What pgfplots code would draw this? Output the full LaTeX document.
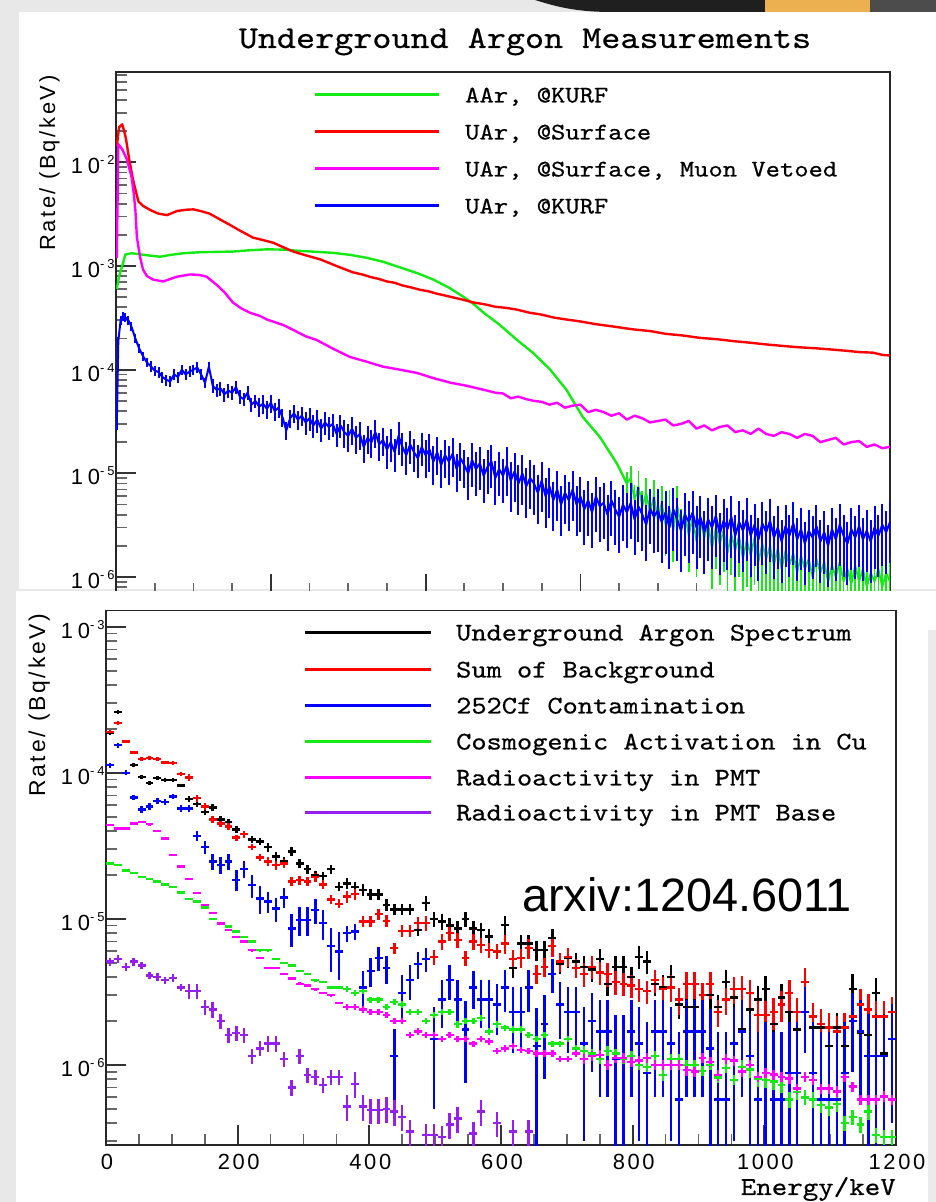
\documentclass[border=0pt]{standalone}
\usepackage{graphicx}
\usepackage{pgfplots}
\pgfplotsset{compat=1.18}
\usepackage{pgfplotstable}
\usepackage{fontspec}
\setmainfont{Liberation Sans}
\newfontfamily\rootsans[LetterSpace=12]{Liberation Sans}
\newfontfamily\rootsansy[LetterSpace=22]{Liberation Sans}
\newfontfamily\typew[Extension=.otf, FakeBold=0.45]{lmmono10-regular}
% typewriter text widened to Courier proportions
\newcommand{\cour}[2]{\scalebox{1.14}[1]{\typew\fontsize{#1}{#1}\selectfont #2}}

\definecolor{rgreen}{RGB}{20,235,20}
\definecolor{rred}{RGB}{255,0,0}
\definecolor{rmag}{RGB}{255,0,255}
\definecolor{rblue}{RGB}{0,0,255}
\definecolor{rviolet}{RGB}{150,30,240}
\definecolor{slidetan}{RGB}{236,176,80}

\pgfkeys{/pgf/number format/.cd, assume math mode=true, 1000 sep={}}
\newcommand{\decadelabel}{\pgfmathtruncatemacro{\ex}{round(-\tick)}10\raisebox{0.42em}{\fontsize{13}{13}\selectfont -\ex}}

\pgfplotsset{
  rootaxis/.style={
    scale only axis, enlargelimits=false,
    tick pos=left, tick align=inside,
    axis line style={black!85, line width=1.6bp},
    major tick style={black!80, line width=1.8bp},
    minor tick style={black!60, line width=1.8bp},
    major tick length=20bp, minor tick length=11bp,
    minor x tick num=3,
    yticklabel={\decadelabel},
    yticklabel style={font=\rootsansy\fontsize{22}{22}\selectfont, anchor=base east, xshift=2bp, yshift=-11.5bp},
    xticklabel style={font=\rootsans\fontsize{22}{22}\selectfont, anchor=base, xshift=1bp, yshift=-24bp},
  },
  spec/.style={only marks, mark=-, mark size=3.95bp, mark options={line width=2.4bp}},
  rbar/.style={error bars/y dir=both, error bars/y explicit relative, error bars/error mark=none,
    error bars/error bar style={line width=2.4bp}},
  abar/.style={error bars/y dir=both, error bars/y explicit, error bars/error mark=none,
    error bars/error bar style={line width=2.4bp}},
  curve/.style={no marks, line width=2.4bp, line join=round},
}

\begin{document}
% UAr at KURF, 5 keV steps, relative errors
\pgfplotstableread{
E v r
1 2.9e-5 0.1
3 1.9e-4 0.1
6 3.0e-4 0.1
9 3.3e-4 0.1
12 3.2e-4 0.1
16 3.0e-4 0.1
20 2.6e-4 0.1
25 2.0e-4 0.1
30 1.6e-4 0.1
35 1.35e-4 0.1
40 1.17e-4 0.1
45 1.08e-4 0.12
50 9.8e-5 0.12
55 9.5e-5 0.12
60 8.5e-5 0.12
65 8.0e-5 0.12
70 7.7e-5 0.12
75 9.0e-5 0.12
80 8.5e-5 0.12
85 1.0e-4 0.12
90 9.0e-5 0.12
95 9.6e-5 0.12
100 1.0e-4 0.12
105 1.05e-4 0.12
110 9.0e-5 0.12
115 7.5e-5 0.12
120 1.07e-4 0.12
125 7.0e-5 0.15
130 6.4e-5 0.15
135 6.6e-5 0.15
140 5.8e-5 0.15
145 6.3e-5 0.15
150 6.0e-5 0.15
155 6.8e-5 0.15
160 5.5e-5 0.15
165 5.2e-5 0.15
170 6.0e-5 0.15
175 4.6e-5 0.15
180 5.0e-5 0.15
185 4.4e-5 0.2
190 4.7e-5 0.2
195 4.2e-5 0.2
200 4.8e-5 0.2
205 4.0e-5 0.2
210 4.3e-5 0.2
215 3.5e-5 0.2
220 2.6e-5 0.2
225 3.4e-5 0.2
230 3.8e-5 0.2
235 3.3e-5 0.2
240 3.6e-5 0.2
245 3.1e-5 0.25
250 3.4e-5 0.25
255 2.9e-5 0.25
260 3.3e-5 0.25
265 2.7e-5 0.25
270 3.1e-5 0.25
275 2.8e-5 0.25
280 3.0e-5 0.25
285 2.4e-5 0.25
290 2.9e-5 0.25
295 2.5e-5 0.3
300 2.3e-5 0.3
305 2.7e-5 0.3
310 2.2e-5 0.3
315 2.4e-5 0.3
320 1.8e-5 0.3
325 2.2e-5 0.3
330 2.0e-5 0.3
335 2.5e-5 0.3
340 1.9e-5 0.3
345 2.1e-5 0.3
350 1.7e-5 0.35
355 2.0e-5 0.35
360 1.6e-5 0.35
365 2.3e-5 0.35
370 1.8e-5 0.35
375 1.5e-5 0.35
380 1.9e-5 0.35
385 1.6e-5 0.35
390 1.4e-5 0.35
395 1.8e-5 0.35
400 1.5e-5 0.4
405 1.7e-5 0.4
410 1.3e-5 0.4
415 1.6e-5 0.4
420 1.2e-5 0.4
425 1.5e-5 0.4
430 1.3e-5 0.4
435 1.55e-5 0.4
440 1.1e-5 0.4
445 1.4e-5 0.4
450 1.2e-5 0.4
455 1.0e-5 0.45
460 1.35e-5 0.45
465 1.1e-5 0.45
470 1.25e-5 0.45
475 9.5e-6 0.45
480 1.15e-5 0.45
485 1.3e-5 0.45
490 9.0e-6 0.45
495 1.1e-5 0.45
500 9.5e-6 0.45
505 1.2e-5 0.5
510 8.5e-6 0.5
515 1.05e-5 0.5
520 8.0e-6 0.5
525 1.0e-5 0.5
530 7.5e-6 0.5
535 9.0e-6 0.5
540 8.0e-6 0.5
545 6.5e-6 0.5
550 8.5e-6 0.5
555 6.0e-6 0.5
560 7.5e-6 0.5
565 5.5e-6 0.5
570 7.0e-6 0.5
575 5.0e-6 0.5
580 6.5e-6 0.5
585 5.5e-6 0.5
590 7.0e-6 0.5
595 5.0e-6 0.5
600 6.0e-6 0.55
605 4.5e-6 0.55
610 5.5e-6 0.55
615 4.2e-6 0.55
620 6.0e-6 0.55
625 4.8e-6 0.55
630 5.2e-6 0.55
635 4.0e-6 0.55
640 5.5e-6 0.55
645 4.5e-6 0.55
650 3.8e-6 0.55
655 5.0e-6 0.55
660 4.2e-6 0.55
665 5.2e-6 0.55
670 3.6e-6 0.55
675 4.8e-6 0.55
680 4.0e-6 0.55
685 3.2e-6 0.55
690 4.6e-6 0.55
695 3.8e-6 0.55
700 4.4e-6 0.6
705 3.4e-6 0.6
710 4.2e-6 0.6
715 3.0e-6 0.6
720 4.5e-6 0.6
725 3.6e-6 0.6
730 2.8e-6 0.6
735 4.0e-6 0.6
740 3.4e-6 0.6
745 4.2e-6 0.6
750 3.0e-6 0.6
755 3.8e-6 0.6
760 2.7e-6 0.6
765 3.6e-6 0.6
770 3.0e-6 0.6
775 3.9e-6 0.6
780 2.6e-6 0.6
785 3.5e-6 0.6
790 2.9e-6 0.6
795 3.8e-6 0.6
800 2.5e-6 0.6
805 3.4e-6 0.6
810 2.8e-6 0.6
815 3.6e-6 0.6
820 2.5e-6 0.6
825 3.2e-6 0.6
830 2.3e-6 0.6
835 3.3e-6 0.6
840 2.7e-6 0.6
845 3.5e-6 0.6
850 2.4e-6 0.6
855 3.0e-6 0.6
860 2.2e-6 0.6
865 3.1e-6 0.6
870 2.5e-6 0.6
875 3.3e-6 0.6
880 2.3e-6 0.6
885 2.9e-6 0.6
890 2.1e-6 0.6
895 2.8e-6 0.6
900 2.4e-6 0.6
905 3.1e-6 0.6
910 2.2e-6 0.6
915 2.7e-6 0.6
920 2.0e-6 0.6
925 2.9e-6 0.6
930 2.3e-6 0.6
935 3.2e-6 0.6
940 2.5e-6 0.6
945 2.1e-6 0.6
950 2.9e-6 0.6
955 2.4e-6 0.6
960 3.1e-6 0.6
965 2.3e-6 0.6
970 2.8e-6 0.6
975 2.2e-6 0.6
980 3.0e-6 0.6
985 2.5e-6 0.6
990 3.2e-6 0.6
995 2.7e-6 0.6
1000 3.4e-6 0.6
}\kurfdata

% AAr at KURF above the 39Ar endpoint, relative errors
\pgfplotstableread{
E v r
660 8e-6 0.3
665 9e-6 0.3
670 5.5e-6 0.4
675 7.5e-6 0.4
680 4.8e-6 0.4
685 6.5e-6 0.4
690 4.2e-6 0.45
695 6.0e-6 0.45
700 3.6e-6 0.45
705 5.2e-6 0.45
710 3.2e-6 0.5
715 4.6e-6 0.5
720 2.8e-6 0.5
725 5.0e-6 0.5
730 3.0e-6 0.5
735 4.2e-6 0.5
740 2.5e-6 0.55
745 3.8e-6 0.55
750 2.2e-6 0.55
755 3.6e-6 0.55
760 2.4e-6 0.55
765 3.3e-6 0.55
770 1.9e-6 0.6
775 3.0e-6 0.6
780 2.1e-6 0.6
785 2.8e-6 0.6
790 1.7e-6 0.6
795 2.6e-6 0.6
800 1.8e-6 0.6
805 2.5e-6 0.6
810 1.5e-6 0.65
815 2.3e-6 0.65
820 1.6e-6 0.65
825 2.4e-6 0.65
830 1.4e-6 0.65
835 2.1e-6 0.65
840 1.5e-6 0.65
845 2.0e-6 0.65
850 1.3e-6 0.7
855 1.9e-6 0.7
860 1.2e-6 0.7
865 1.8e-6 0.7
870 1.3e-6 0.7
875 1.7e-6 0.7
880 1.1e-6 0.7
885 1.6e-6 0.7
890 1.2e-6 0.7
895 1.5e-6 0.7
900 1.0e-6 0.75
905 1.5e-6 0.75
910 1.1e-6 0.75
915 1.4e-6 0.75
920 9e-7 0.75
925 1.3e-6 0.75
930 1.0e-6 0.75
935 1.4e-6 0.75
940 9e-7 0.75
945 1.2e-6 0.75
950 8.5e-7 0.8
955 1.3e-6 0.8
960 9e-7 0.8
965 1.2e-6 0.8
970 8e-7 0.8
975 1.1e-6 0.8
980 9e-7 0.8
985 1.2e-6 0.8
990 8e-7 0.8
995 1.1e-6 0.8
1000 9e-7 0.8
}\aartail

% 12 keV bins: spectrum, background sum and its components (relative errors; 252Cf absolute)
\pgfplotstableread{
E k ke r re b bp bm g ge m me p pe
6 1.88e-4 0.03 1.9e-4 0.03 1.13e-4 4.5e-6 4.5e-6 2.4e-5 0.02 4.4e-5 0.02 5.1e-6 0.06
18 2.6e-4 0.03 2.2e-4 0.03 1.55e-4 6e-6 6e-6 2.34e-5 0.02 4.15e-5 0.02 5.3e-6 0.06
30 1.64e-4 0.03 1.64e-4 0.03 1.0e-4 4e-6 4e-6 2.15e-5 0.02 4.15e-5 0.02 4.7e-6 0.06
42 1.13e-4 0.03 1.38e-4 0.03 6.8e-5 3e-6 3e-6 2.07e-5 0.02 4.5e-5 0.02 5.1e-6 0.06
54 9.4e-5 0.03 1.24e-4 0.03 5.6e-5 3e-6 3e-6 1.94e-5 0.02 4.6e-5 0.02 4.8e-6 0.06
66 8.5e-5 0.03 1.26e-4 0.03 5.9e-5 3e-6 3e-6 1.88e-5 0.02 4.45e-5 0.02 4.1e-6 0.06
78 9.2e-5 0.03 1.24e-4 0.03 6.4e-5 3e-6 3e-6 1.8e-5 0.02 4.0e-5 0.02 4.0e-6 0.06
90 8.9e-5 0.03 1.18e-4 0.03 6.3e-5 3e-6 3e-6 1.72e-5 0.02 3.55e-5 0.02 3.8e-6 0.06
102 8.9e-5 0.03 1.17e-4 0.03 6.9e-5 3e-6 3e-6 1.66e-5 0.02 2.75e-5 0.02 3.95e-6 0.06
114 8.2e-5 0.03 9.8e-5 0.03 5.7e-5 3e-6 3e-6 1.52e-5 0.02 2.28e-5 0.02 3.4e-6 0.06
126 6.6e-5 0.05 9.3e-5 0.05 5.7e-5 3e-6 3e-6 1.37e-5 0.02 1.88e-5 0.02 3.2e-6 0.12
138 6.1e-5 0.05 6.7e-5 0.05 3.7e-5 3e-6 3e-6 1.32e-5 0.02 1.5e-5 0.02 3.2e-6 0.12
150 5.4e-5 0.05 5.9e-5 0.05 3.1e-5 3e-6 3e-6 1.2e-5 0.02 1.25e-5 0.02 2.5e-6 0.12
162 5.8e-5 0.05 4.8e-5 0.05 2.47e-5 3e-6 3e-6 1.0e-5 0.02 1.1e-5 0.02 2.4e-6 0.12
174 4.8e-5 0.05 4.5e-5 0.05 2.34e-5 3e-6 3e-6 9.4e-6 0.02 9.3e-6 0.02 2.0e-6 0.12
186 4.6e-5 0.05 4.3e-5 0.05 2.47e-5 3e-6 3e-6 8.9e-6 0.02 8.4e-6 0.02 1.6e-6 0.12
198 4.1e-5 0.05 3.6e-5 0.05 1.85e-5 3e-6 3e-6 8.2e-6 0.02 7.5e-6 0.02 1.65e-6 0.12
210 3.8e-5 0.05 3.8e-5 0.05 2.2e-5 3e-6 3e-6 7.5e-6 0.02 7.0e-6 0.02 1.6e-6 0.12
222 3.5e-5 0.05 3.1e-5 0.05 1.7e-5 3e-6 3e-6 7.0e-6 0.02 6.1e-6 0.02 1.15e-6 0.12
234 3.4e-5 0.05 2.63e-5 0.05 1.38e-5 3e-6 3e-6 6.1e-6 0.02 5.4e-6 0.02 1.3e-6 0.12
246 3.1e-5 0.07 2.47e-5 0.07 1.32e-5 2.2e-6 2.2e-6 6.1e-6 0.02 4.6e-6 0.02 1.4e-6 0.12
258 2.67e-5 0.07 2.34e-5 0.07 1.18e-5 2.2e-6 2.2e-6 5.3e-6 0.02 4.6e-6 0.02 1.4e-6 0.12
270 2.5e-5 0.07 2.4e-5 0.07 1.4e-5 2.2e-6 2.2e-6 5.0e-6 0.02 4.2e-6 0.02 1.1e-6 0.12
282 2.9e-5 0.07 1.8e-5 0.07 8.6e-6 2.2e-6 2.2e-6 4.8e-6 0.02 3.9e-6 0.02 7.0e-7 0.12
294 2.4e-5 0.07 1.85e-5 0.07 9.8e-6 2.2e-6 2.2e-6 4.4e-6 0.02 3.6e-6 0.02 1.15e-6 0.12
306 2.2e-5 0.07 1.8e-5 0.07 9.8e-6 2.2e-6 2.2e-6 4.2e-6 0.02 3.5e-6 0.02 8.5e-7 0.12
318 2.0e-5 0.07 1.94e-5 0.07 1.15e-5 2.2e-6 2.2e-6 3.8e-6 0.02 3.3e-6 0.02 8.3e-7 0.12
330 1.97e-5 0.07 1.72e-5 0.07 9.4e-6 2.2e-6 2.2e-6 3.7e-6 0.02 3.1e-6 0.02 7.3e-7 0.12
342 2.2e-5 0.07 1.36e-5 0.07 6.5e-6 2.2e-6 2.2e-6 3.4e-6 0.02 3.0e-6 0.02 8.3e-7 0.12
354 1.66e-5 0.07 1.27e-5 0.07 6.0e-6 2.2e-6 2.2e-6 3.4e-6 0.02 2.65e-6 0.02 8.3e-7 0.12
366 1.75e-5 0.09 1.42e-5 0.09 8.0e-6 1.0e-6 1.0e-6 3.3e-6 0.05 2.5e-6 0.05 5.2e-7 0.2
378 1.65e-5 0.09 1.48e-5 0.09 8.2e-6 1.0e-6 1.0e-6 3.1e-6 0.05 2.5e-6 0.05 7.4e-7 0.2
390 1.58e-5 0.09 9.6e-6 0.09 3.4e-6 1.0e-6 1.0e-6 3.2e-6 0.05 2.4e-6 0.05 5.2e-7 0.2
402 1.47e-5 0.09 9.6e-6 0.09 4.4e-6 1.0e-6 1.0e-6 2.8e-6 0.05 2.3e-6 0.05 4.9e-7 0.2
414 1.47e-5 0.09 1.08e-5 0.09 5.4e-6 1.0e-6 1.0e-6 2.8e-6 0.05 2.3e-6 0.05 4.9e-7 0.2
426 1.25e-5 0.09 9.7e-6 0.09 4.6e-6 1.0e-6 1.0e-6 2.5e-6 0.05 2.2e-6 0.05 5.0e-7 0.2
438 1.16e-5 0.09 6.3e-6 0.09 1.15e-6 0.6e-6 0.6e-6 2.7e-6 0.05 2.0e-6 0.05 4.8e-7 0.2
450 1.16e-5 0.09 8.3e-6 0.09 3.1e-6 1.0e-6 1.0e-6 2.6e-6 0.05 2.0e-6 0.05 4.4e-7 0.2
462 1.16e-5 0.09 8.3e-6 0.09 3.8e-6 1.0e-6 1.0e-6 2.3e-6 0.05 1.6e-6 0.05 3.5e-7 0.2
474 8.4e-6 0.09 9.4e-6 0.09 4.9e-6 1.0e-6 1.0e-6 2.3e-6 0.05 1.7e-6 0.05 nan 0.2
486 1.29e-5 0.12 9.4e-6 0.12 5.3e-6 1.0e-6 1.0e-6 2.0e-6 0.05 1.6e-6 0.05 3.3e-7 0.2
498 1.0e-5 0.12 5.5e-6 0.12 1.5e-6 1.0e-6 1.0e-6 2.2e-6 0.05 1.6e-6 0.05 3.3e-7 0.2
510 9.6e-6 0.12 7.0e-6 0.12 2.8e-6 1.0e-6 1.0e-6 2.3e-6 0.05 1.5e-6 0.05 3.2e-7 0.2
522 9.0e-6 0.12 8.0e-6 0.12 3.8e-6 1.0e-6 1.0e-6 2.3e-6 0.05 1.6e-6 0.05 3.9e-7 0.2
534 8.6e-6 0.12 7.2e-6 0.12 2.8e-6 1.0e-6 1.0e-6 1.9e-6 0.05 1.5e-6 0.05 4.3e-7 0.2
546 1.0e-5 0.12 5.4e-6 0.12 1.75e-6 1.0e-6 1.0e-6 2.0e-6 0.05 1.5e-6 0.05 nan 0.2
558 8.6e-6 0.12 7.0e-6 0.12 3.4e-6 1.0e-6 1.0e-6 2.0e-6 0.05 1.4e-6 0.05 3.4e-7 0.2
570 8.4e-6 0.12 6.6e-6 0.12 2.8e-6 1.0e-6 1.0e-6 2.1e-6 0.05 1.5e-6 0.05 4.8e-7 0.2
582 7.6e-6 0.12 6.1e-6 0.12 2.8e-6 1.0e-6 1.0e-6 1.7e-6 0.05 1.45e-6 0.05 nan 0.2
594 6.0e-6 0.12 6.0e-6 0.12 2.6e-6 1.0e-6 1.0e-6 1.9e-6 0.05 1.25e-6 0.05 4.0e-7 0.2
606 9.1e-6 0.15 6.8e-6 0.15 3.4e-6 1.1e-6 1.1e-6 1.8e-6 0.05 1.3e-6 0.05 nan 0.2
618 4.6e-6 0.15 5.3e-6 0.15 2.3e-6 1.1e-6 1.1e-6 1.75e-6 0.05 1.35e-6 0.05 3.5e-7 0.2
630 6.8e-6 0.15 5.4e-6 0.15 2.3e-6 1.1e-6 1.1e-6 1.75e-6 0.05 1.27e-6 0.05 nan 0.2
642 6.8e-6 0.15 6.3e-6 0.15 3.4e-6 1.1e-6 1.1e-6 1.6e-6 0.05 1.25e-6 0.05 3.5e-7 0.2
654 6.1e-6 0.15 4.2e-6 0.15 1.35e-6 1.1e-6 1.1e-6 1.5e-6 0.05 1.2e-6 0.05 nan 0.2
666 6.1e-6 0.15 4.7e-6 0.15 1.9e-6 1.1e-6 1.1e-6 1.6e-6 0.05 1.2e-6 0.05 nan 0.2
678 7.4e-6 0.15 6.5e-6 0.15 4.2e-6 1.1e-6 1.1e-6 1.4e-6 0.05 1.2e-6 0.05 nan 0.2
690 4.9e-6 0.15 5.1e-6 0.15 2.6e-6 1.1e-6 1.1e-6 1.4e-6 0.05 1.1e-6 0.05 nan 0.2
702 5.4e-6 0.15 5.5e-6 0.15 2.3e-6 1.1e-6 1.1e-6 1.5e-6 0.05 1.1e-6 0.05 nan 0.2
714 5.1e-6 0.15 4.6e-6 0.15 2.3e-6 1.1e-6 1.1e-6 1.3e-6 0.05 1.2e-6 0.05 nan 0.2
726 4.7e-6 0.18 4.2e-6 0.18 1.4e-6 1.1e-6 1.1e-6 1.25e-6 0.08 1.1e-6 0.08 nan 0.2
738 4.5e-6 0.18 4.7e-6 0.18 2.0e-6 1.1e-6 1.1e-6 1.2e-6 0.08 1.15e-6 0.08 nan 0.2
750 5.3e-6 0.18 4.3e-6 0.18 1.7e-6 1.1e-6 1.1e-6 1.1e-6 0.08 1.17e-6 0.08 nan 0.2
762 3.6e-6 0.18 4.2e-6 0.18 1.7e-6 1.1e-6 1.1e-6 1.25e-6 0.08 1.0e-6 0.08 nan 0.2
774 4.7e-6 0.18 3.7e-6 0.18 1.1e-6 1.1e-6 1.07e-6 1.2e-6 0.08 1.12e-6 0.08 nan 0.2
786 4.7e-6 0.18 3.6e-6 0.18 1.1e-6 1.1e-6 1.07e-6 1.1e-6 0.08 1.12e-6 0.08 nan 0.2
798 4.0e-6 0.18 3.5e-6 0.18 1.7e-6 1.1e-6 1.1e-6 1.15e-6 0.08 1.05e-6 0.08 nan 0.2
810 5.5e-6 0.18 3.3e-6 0.18 1.4e-6 1.1e-6 1.1e-6 1.0e-6 0.08 1.07e-6 0.08 nan 0.2
822 5.1e-6 0.18 3.2e-6 0.18 8.8e-7 1.1e-6 8.5e-7 9.7e-7 0.08 1.12e-6 0.08 nan 0.2
834 3.6e-6 0.18 3.8e-6 0.18 1.7e-6 1.1e-6 1.1e-6 1.15e-6 0.08 1.0e-6 0.08 nan 0.2
846 3.4e-6 0.21 3.3e-6 0.21 1.7e-6 1.1e-6 1.1e-6 8.5e-7 0.08 1.0e-6 0.08 nan 0.2
858 4.0e-6 0.21 3.4e-6 0.21 1.4e-6 1.1e-6 1.1e-6 1.1e-6 0.08 1.0e-6 0.08 nan 0.2
870 2.6e-6 0.21 2.8e-6 0.21 5.8e-7 1.1e-6 5.6e-7 1.1e-6 0.08 1.0e-6 0.08 nan 0.2
882 2.5e-6 0.21 3.6e-6 0.21 1.7e-6 1.1e-6 1.1e-6 1.0e-6 0.08 9.2e-7 0.08 nan 0.2
894 2.5e-6 0.21 3.6e-6 0.21 1.7e-6 1.1e-6 1.1e-6 1.0e-6 0.08 9.0e-7 0.08 nan 0.2
906 3.0e-6 0.21 3.0e-6 0.21 1.7e-6 1.1e-6 1.1e-6 9.1e-7 0.08 1.12e-6 0.08 nan 0.2
918 3.0e-6 0.21 3.6e-6 0.21 1.3e-6 1.1e-6 1.1e-6 1.0e-6 0.08 1.05e-6 0.08 nan 0.2
930 2.5e-6 0.21 2.3e-6 0.21 5.8e-7 1.1e-6 5.6e-7 8.2e-7 0.08 8.5e-7 0.08 nan 0.2
942 3.7e-6 0.21 2.8e-6 0.21 5.8e-7 1.1e-6 5.6e-7 9.5e-7 0.08 1.1e-6 0.08 nan 0.2
954 2.9e-6 0.21 3.3e-6 0.21 1.4e-6 1.1e-6 1.1e-6 7.9e-7 0.08 1.07e-6 0.08 nan 0.2
966 1.75e-6 0.24 3.3e-6 0.24 1.7e-6 1.1e-6 1.1e-6 9.7e-7 0.12 9.0e-7 0.08 nan 0.2
978 2.4e-6 0.24 3.1e-6 0.24 1.15e-6 1.1e-6 1.1e-6 9.3e-7 0.12 1.0e-6 0.08 nan 0.2
990 2.8e-6 0.24 2.2e-6 0.24 5.8e-7 1.1e-6 5.6e-7 8.0e-7 0.12 8.3e-7 0.08 nan 0.2
1002 3.3e-6 0.24 2.2e-6 0.24 8.8e-7 1.1e-6 8.5e-7 7.9e-7 0.12 8.8e-7 0.08 nan 0.2
1014 1.9e-6 0.24 2.3e-6 0.24 5.8e-7 1.1e-6 5.6e-7 7.7e-7 0.12 8.6e-7 0.08 nan 0.2
1026 2.9e-6 0.24 2.6e-6 0.24 5.8e-7 1.1e-6 5.6e-7 7.3e-7 0.12 8.3e-7 0.08 nan 0.2
1038 2.3e-6 0.24 3.1e-6 0.24 8.8e-7 1.1e-6 8.5e-7 5.8e-7 0.12 8.1e-7 0.08 nan 0.2
1050 1.75e-6 0.24 2.3e-6 0.24 8.8e-7 1.1e-6 8.5e-7 6.5e-7 0.12 6.9e-7 0.08 nan 0.2
1062 2.3e-6 0.24 3.7e-6 0.24 2.3e-6 1.1e-6 1.1e-6 6.0e-7 0.12 8.3e-7 0.08 nan 0.2
1074 1.8e-6 0.24 2.15e-6 0.24 8.8e-7 1.1e-6 8.5e-7 5.8e-7 0.12 7.9e-7 0.08 nan 0.2
1086 1.8e-6 0.27 1.9e-6 0.27 5.8e-7 1.1e-6 5.6e-7 5.3e-7 0.12 6.9e-7 0.08 nan 0.2
1098 1.35e-6 0.27 1.8e-6 0.27 5.8e-7 1.1e-6 5.6e-7 5.1e-7 0.12 6.9e-7 0.08 nan 0.2
1110 1.8e-6 0.27 1.7e-6 0.27 5.8e-7 1.1e-6 5.6e-7 5.4e-7 0.12 6.6e-7 0.08 nan 0.2
1122 1.35e-6 0.27 1.8e-6 0.27 8.8e-7 1.1e-6 8.5e-7 4.0e-7 0.12 8.3e-7 0.08 nan 0.2
1134 3.3e-6 0.27 2.15e-6 0.27 2.0e-6 1.1e-6 1.1e-6 4.4e-7 0.12 7.1e-7 0.08 nan 0.2
1146 1.65e-6 0.27 2.6e-6 0.27 1.7e-6 1.1e-6 1.1e-6 3.9e-7 0.12 5.8e-7 0.08 nan 0.2
1158 1.6e-6 0.27 2.4e-6 0.27 1.15e-6 1.1e-6 1.1e-6 4.8e-7 0.12 5.8e-7 0.08 nan 0.2
1170 3.1e-6 0.27 2.15e-6 0.27 1.15e-6 1.1e-6 1.1e-6 3.3e-7 0.12 5.8e-7 0.08 nan 0.2
1182 1.2e-6 0.27 2.15e-6 0.27 1.15e-6 1.1e-6 1.1e-6 3.2e-7 0.12 6.1e-7 0.08 nan 0.2
1194 1.5e-6 0.27 2.3e-6 0.27 1.5e-6 1.1e-6 1.1e-6 3.2e-7 0.12 5.8e-7 0.08 nan 0.2
}\bdata

\begin{tikzpicture}[x=1bp,y=1bp]
% slide background
\fill[black!9] (0,0) rectangle (936,1202);
\fill[black!88] (535,1202) .. controls (560,1194) and (580,1190) .. (612,1190) -- (936,1190) -- (936,1202) -- cycle;
\fill[slidetan] (765,1190) rectangle (870,1202);
\fill[black!70] (870,1190) rectangle (936,1202);
\fill[white] (19,613) rectangle (936,1190);

% ---------------- upper panel ----------------
\begin{axis}[ymode=log, log basis y=10, rootaxis,
  at={(116bp,608bp)}, anchor=south west, width=774bp, height=522bp,
  xmin=0, xmax=1000, ymin=6.86e-7, ymax=0.0745,
  xtick={0,200,...,1000}, xticklabels={},
  ytickten={-6,-5,-4,-3,-2},
  minor ytick={7e-7,8e-7,9e-7,2e-6,3e-6,4e-6,5e-6,6e-6,7e-6,8e-6,9e-6,2e-5,3e-5,4e-5,5e-5,6e-5,7e-5,8e-5,9e-5,2e-4,3e-4,4e-4,5e-4,6e-4,7e-4,8e-4,9e-4,2e-3,3e-3,4e-3,5e-3,6e-3,7e-3,8e-3,9e-3,2e-2,3e-2,4e-2,5e-2,6e-2,7e-2}]
% AAr @KURF
\addplot[rgreen, curve] coordinates {(1,6e-4)(4,8e-4)(8,1.0e-3)(12,1.29e-3)(20,1.33e-3)(30,1.30e-3)(44,1.26e-3)(57,1.23e-3)(70,1.28e-3)(87,1.33e-3)(109,1.36e-3)(130,1.37e-3)(151,1.38e-3)(173,1.42e-3)(195,1.45e-3)(216,1.44e-3)(238,1.40e-3)(260,1.37e-3)(281,1.34e-3)(303,1.28e-3)(324,1.20e-3)(345,1.10e-3)(367,9.7e-4)(390,8.5e-4)(410,7.4e-4)(430,6.2e-4)(448,5.1e-4)(462,4.3e-4)(475,3.55e-4)(496,2.7e-4)(518,1.94e-4)(539,1.45e-4)(561,1.0e-4)(582,6.4e-5)(603,3.5e-5)(625,2.25e-5)(647,1.25e-5)(660,8e-6)};
\addplot[rgreen, curve, line width=1.8bp, error bars/y dir=both, error bars/y explicit relative, error bars/error mark=none, error bars/error bar style={line width=1.8bp}] table[x=E, y=v, y error=r] {\aartail};
% UAr @Surface
\addplot[rred, curve] coordinates {(1,0.0143)(4,0.0218)(8,0.0233)(11,0.0195)(13,0.0167)(17,0.0107)(20,0.0082)(22,0.0068)(25,0.0055)(29,0.0042)(35,0.0038)(45,0.00345)(55,0.0032)(66,0.0031)(79,0.0034)(92,0.0035)(100,0.00352)(109,0.0034)(121,0.0032)(135,0.0028)(147,0.0025)(160,0.0022)(177,0.00188)(190,0.00178)(203,0.00168)(216,0.00152)(229,0.00138)(245,0.00127)(264,0.00116)(285,0.00100)(306,0.00087)(318,0.00083)(330,0.00078)(340,0.00075)(350,0.00071)(360,0.00069)(370,0.00065)(382,0.00062)(393,0.00059)(404,0.00057)(415,0.00054)(425,0.00052)(436,0.000497)(449,0.000472)(462,0.000445)(476,0.000428)(490,0.000405)(504,0.000395)(518,0.00038)(534,0.000355)(550,0.00034)(566,0.000318)(582,0.000305)(600,0.000292)(620,0.000275)(644,0.00026)(668,0.000245)(690,0.000236)(710,0.000222)(732,0.000214)(754,0.000203)(776,0.000197)(800,0.000188)(820,0.000182)(841,0.000175)(860,0.00017)(880,0.000165)(904,0.000161)(927,0.000156)(945,0.000152)(960,0.000148)(978,0.000146)(990,0.000139)(1000,0.000137)};
% UAr @Surface, muon vetoed
\addplot[rmag, curve] coordinates {(1,0.0012)(3,0.015)(8,0.0134)(14,0.0107)(20,0.0073)(23,0.0050)(25,0.0035)(27,0.0019)(31,0.00123)(35,0.00092)(40,0.00080)(48,0.00074)(61,0.00071)(70,0.00075)(79,0.00079)(96,0.00083)(108,0.00082)(117,0.00079)(130,0.00066)(140,0.00056)(151,0.000445)(162,0.00039)(173,0.000355)(186,0.00033)(195,0.000305)(216,0.00027)(230,0.00024)(245,0.00021)(259,0.000194)(280,0.00016)(302,0.000133)(323,0.00012)(345,0.000107)(367,0.0001)(389,9.3e-5)(410,8.3e-5)(432,7.5e-5)(453,7.0e-5)(475,6.4e-5)(490,6.0e-5)(500,5.9e-5)(510,5.3e-5)(520,5.5e-5)(530,5.2e-5)(540,5.0e-5)(550,4.9e-5)(560,4.6e-5)(570,4.8e-5)(580,4.3e-5)(590,4.5e-5)(600,4.6e-5)(610,3.9e-5)(620,4.1e-5)(630,3.9e-5)(640,3.6e-5)(650,3.8e-5)(660,3.3e-5)(670,3.6e-5)(680,3.4e-5)(690,3.1e-5)(700,3.2e-5)(710,3.3e-5)(720,2.9e-5)(730,3.0e-5)(740,3.2e-5)(750,2.7e-5)(760,2.9e-5)(770,2.6e-5)(780,2.8e-5)(790,2.9e-5)(800,2.5e-5)(810,2.6e-5)(820,2.4e-5)(830,2.7e-5)(840,2.4e-5)(850,2.3e-5)(860,2.5e-5)(870,2.4e-5)(880,2.2e-5)(890,2.4e-5)(900,2.3e-5)(910,2.0e-5)(920,2.1e-5)(930,2.2e-5)(940,1.9e-5)(950,2.0e-5)(960,2.05e-5)(970,1.8e-5)(980,1.9e-5)(990,1.75e-5)(1000,1.8e-5)};
% UAr @KURF
\addplot[rblue, curve, line width=2bp, error bars/y dir=both, error bars/y explicit relative, error bars/error mark=none, error bars/error bar style={line width=2bp}] table[x=E, y=v, y error=r] {\kurfdata};
\end{axis}

% upper panel title, axis title and legend
\node[anchor=base] at (525,1154) {\cour{32}{Underground Argon Measurements}};
\node[rotate=90, anchor=base east, font=\rootsans\fontsize{22}{22}\selectfont] at (55,1130) {Rate/ (Bq/keV)};
\begin{scope}[line width=3bp]
\draw[rgreen] (315,1107) -- (439,1107);
\draw[rred]   (315,1070) -- (439,1070);
\draw[rmag]   (315,1033) -- (439,1033);
\draw[rblue]  (315,996) -- (439,996);
\end{scope}
\begin{scope}[every node/.style={anchor=base west, inner sep=0pt}]
\node at (465,1099.5) {\cour{24}{AAr, @KURF}};
\node at (465,1062.5) {\cour{24}{UAr, @Surface}};
\node at (465,1025.5) {\cour{24}{UAr, @Surface, Muon Vetoed}};
\node at (465,988.5) {\cour{24}{UAr, @KURF}};
\end{scope}

% ---------------- lower panel ----------------
\fill[white] (16,0) rectangle (936,611);
\fill[black!8] (928,0) rectangle (936,572);
\begin{axis}[ymode=log, log basis y=10, rootaxis,
  at={(106bp,57bp)}, anchor=south west, width=790bp, height=534.3bp,
  xmin=0, xmax=1200, ymin=2.83e-7, ymax=1.29e-3,
  xtick={0,200,...,1200},
  ytickten={-6,-5,-4,-3},
  minor ytick={3e-7,4e-7,5e-7,6e-7,7e-7,8e-7,9e-7,2e-6,3e-6,4e-6,5e-6,6e-6,7e-6,8e-6,9e-6,2e-5,3e-5,4e-5,5e-5,6e-5,7e-5,8e-5,9e-5,2e-4,3e-4,4e-4,5e-4,6e-4,7e-4,8e-4,9e-4}]
\addplot[black, spec, rbar] table[x=E, y=k, y error=ke] {\bdata};
\addplot[rred, spec, rbar] table[x=E, y=r, y error=re] {\bdata};
\addplot[rblue, spec, abar] table[x=E, y=b, y error plus=bp, y error minus=bm] {\bdata};
\addplot[rgreen, spec, rbar] table[x=E, y=g, y error=ge] {\bdata};
\addplot[rmag, spec, rbar] table[x=E, y=m, y error=me] {\bdata};
\addplot[rviolet, spec, rbar] table[x=E, y=p, y error=pe] {\bdata};
\end{axis}

\node[rotate=90, anchor=base east, font=\rootsans\fontsize{23}{23}\selectfont] at (45,592) {Rate/ (Bq/keV)};
\node[anchor=base east, inner sep=0pt] at (896,7) {\cour{26}{Energy/keV}};
\begin{scope}[line width=3bp]
\draw[black]   (305,569) -- (431,569);
\draw[rred]    (305,532) -- (431,532);
\draw[rblue]   (305,496) -- (431,496);
\draw[rgreen]  (305,460) -- (431,460);
\draw[rmag]    (305,424) -- (431,424);
\draw[rviolet] (305,389) -- (431,389);
\end{scope}
\begin{scope}[every node/.style={anchor=base west, inner sep=0pt}]
\node at (456,561.5) {\cour{25.5}{Underground Argon Spectrum}};
\node at (456,524.5) {\cour{25.5}{Sum of Background}};
\node at (456,488.5) {\cour{25.5}{252Cf Contamination}};
\node at (456,452.5) {\cour{25.5}{Cosmogenic Activation in Cu}};
\node at (456,416.5) {\cour{25.5}{Radioactivity in PMT}};
\node at (456,381.5) {\cour{25.5}{Radioactivity in PMT Base}};
\end{scope}
\node[anchor=base west, inner sep=0pt, font=\fontsize{47}{47}\selectfont] at (522,290) {arxiv:1204.6011};
\end{tikzpicture}
\end{document}
